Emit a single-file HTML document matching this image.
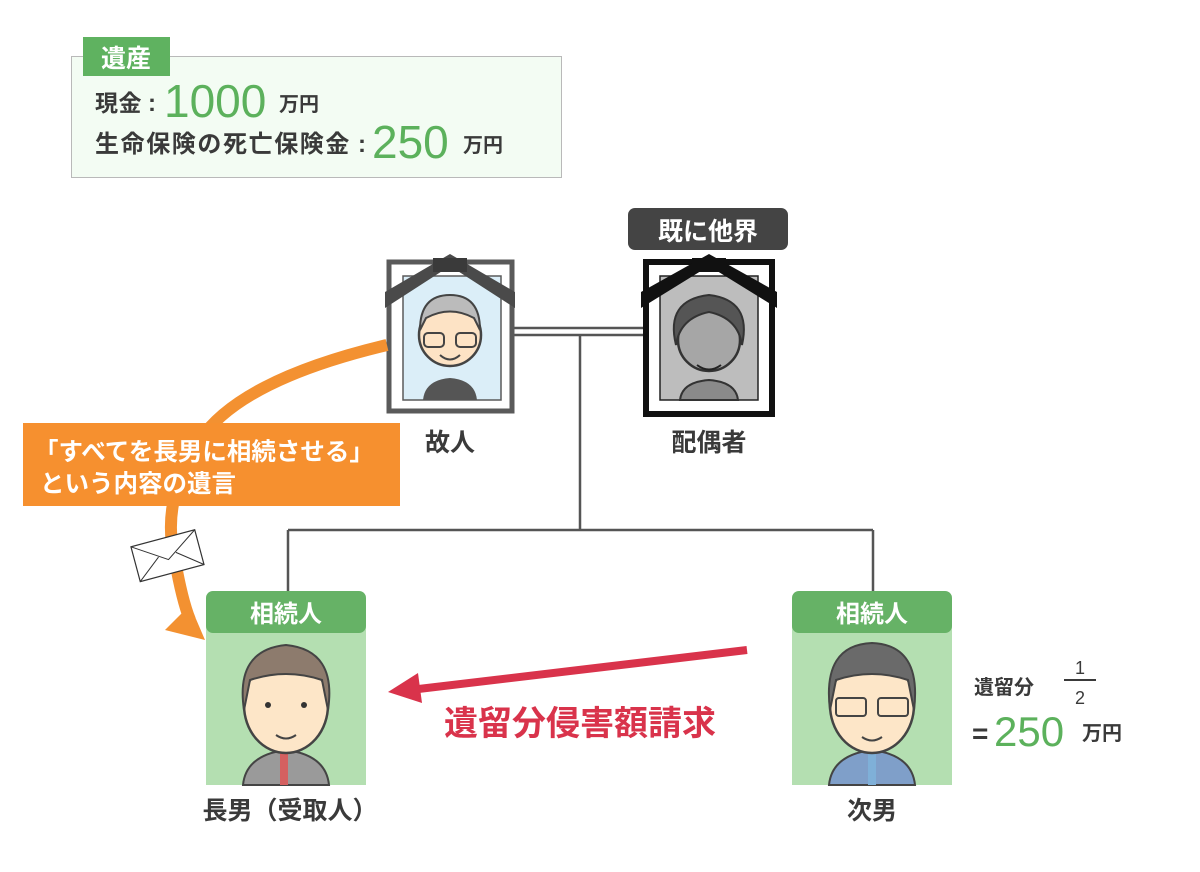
<!DOCTYPE html>
<html><head><meta charset="utf-8">
<style>
html,body{margin:0;padding:0;background:#fff;}
svg{display:block;}
text{font-family:"Liberation Sans","Noto Sans CJK JP",sans-serif;font-weight:bold;}
</style></head>
<body>
<svg width="1200" height="872" viewBox="0 0 1200 872" xmlns="http://www.w3.org/2000/svg">
<!-- estate box -->
<rect x="71.5" y="56.5" width="490" height="121" fill="#f3fcf3" stroke="#b9b9b9"/>
<rect x="83" y="37" width="87" height="39" fill="#5fb260"/>
<text x="126" y="67" font-size="25" fill="#fff" text-anchor="middle">遺産</text>
<text x="95" y="111" font-size="23" fill="#3a3a3a" letter-spacing="0.5">現金</text>
<text x="148" y="111" font-size="24" fill="#3a3a3a">:</text>
<text x="164" y="117" font-size="46" fill="#5cb15c" style="font-weight:normal">1000</text>
<text x="279" y="111" font-size="20" fill="#3a3a3a">万円</text>
<text x="95" y="152" font-size="24" fill="#3a3a3a" letter-spacing="1.6">生命保険の死亡保険金</text>
<text x="358" y="152" font-size="24" fill="#3a3a3a">:</text>
<text x="372" y="158" font-size="46" fill="#5cb15c" style="font-weight:normal">250</text>
<text x="463" y="152" font-size="20" fill="#3a3a3a">万円</text>

<!-- family lines -->
<g stroke="#555" stroke-width="2.5" fill="none">
<line x1="514" y1="328" x2="643" y2="328"/>
<line x1="514" y1="335" x2="643" y2="335"/>
<line x1="580" y1="335" x2="580" y2="530"/>
<line x1="288" y1="530" x2="873" y2="530"/>
<line x1="288" y1="530" x2="288" y2="592"/>
<line x1="873" y1="530" x2="873" y2="592"/>
</g>

<!-- deceased frame -->
<rect x="389" y="262" width="123" height="149" fill="#fff" stroke="#5a5a5a" stroke-width="5"/>
<rect x="403" y="276" width="98" height="124" fill="#dbeef8" stroke="#5a5a5a" stroke-width="1.5"/>
<circle cx="450" cy="335" r="31" fill="#fde3c5" stroke="#444" stroke-width="2.5"/>
<path d="M420 330 Q420 295 450 295 Q480 295 480 330 L474 318 Q450 305 426 318Z" fill="#bbb" stroke="#444" stroke-width="2"/>
<rect x="424" y="333" width="20" height="14" rx="4" fill="none" stroke="#444" stroke-width="2"/>
<rect x="456" y="333" width="20" height="14" rx="4" fill="none" stroke="#444" stroke-width="2"/>
<path d="M440 355 Q450 364 460 355" fill="none" stroke="#444" stroke-width="2"/>
<path d="M423 400 Q425 380 450 378 Q475 380 477 400Z" fill="#555"/>
<path d="M385 308 L450 266 L515 308 L515 292 L450 254 L385 292Z" fill="#4a4a4a"/>
<rect x="433" y="258" width="34" height="14" fill="#3a3a3a"/>

<!-- spouse label & frame -->
<rect x="628" y="208" width="160" height="42" rx="7" fill="#444"/>
<text x="708" y="240" font-size="25" fill="#fff" text-anchor="middle">既に他界</text>
<rect x="646" y="262" width="126" height="152" fill="#fff" stroke="#111" stroke-width="6"/>
<rect x="660" y="276" width="98" height="124" fill="#bdbdbd" stroke="#222" stroke-width="1.5"/>
<path d="M680 400 Q682 382 709 380 Q736 382 738 400Z" fill="#8a8a8a" stroke="#333" stroke-width="2"/>
<circle cx="709" cy="340" r="31" fill="#a6a6a6" stroke="#333" stroke-width="2.5"/>
<path d="M676 345 Q665 300 709 295 Q752 300 742 345 Q738 318 709 312 Q680 318 676 345Z" fill="#555" stroke="#333" stroke-width="2"/>
<path d="M697 365 Q709 374 721 365" fill="none" stroke="#222" stroke-width="2"/>
<path d="M641 308 L709 266 L777 308 L777 292 L709 254 L641 292Z" fill="#111"/>
<rect x="692" y="258" width="34" height="14" fill="#111"/>

<text x="450" y="451" font-size="25" fill="#3a3a3a" text-anchor="middle">故人</text>
<text x="709" y="451" font-size="25" fill="#3a3a3a" text-anchor="middle">配偶者</text>

<!-- orange arrow -->
<path d="M387 345 Q240 380 200 440 Q160 500 175 560 Q182 600 190 620" fill="none" stroke="#f39131" stroke-width="12"/>
<polygon points="165,630 205,640 190,605" fill="#f39131"/>
<rect x="23" y="423" width="377" height="83" fill="#f6902f"/>
<text x="34" y="460" font-size="24.5" fill="#fff">「すべてを長男に相続させる」</text>
<text x="40" y="492" font-size="24.5" fill="#fff">という内容の遺言</text>
<!-- envelope -->
<g transform="rotate(-15 166 554)">
<rect x="134" y="538" width="66" height="36" fill="#fff" stroke="#333" stroke-width="1.2"/>
<path d="M134 538 L167 560 L200 538 M134 574 L158 555 M200 574 L176 555" fill="none" stroke="#333" stroke-width="1"/>
</g>

<!-- cards -->
<g>
<rect x="206" y="620" width="160" height="165" fill="#b4dfb1"/>
<rect x="206" y="591" width="160" height="42" rx="7" fill="#66b266"/>
<text x="286" y="622" font-size="24" fill="#fff" text-anchor="middle">相続人</text>
<path d="M243 785 Q246 755 286 750 Q326 755 329 785Z" fill="#9a9a9a" stroke="#444" stroke-width="2"/>
<rect x="280" y="752" width="8" height="33" fill="#d46060"/>
<ellipse cx="286" cy="705" rx="42" ry="48" fill="#fde6c8" stroke="#444" stroke-width="2.5"/>
<path d="M244 710 Q235 650 286 645 Q337 650 328 710 L322 680 Q286 668 250 680Z" fill="#8d7b6d" stroke="#444" stroke-width="2"/>
<circle cx="268" cy="705" r="3" fill="#333"/><circle cx="304" cy="705" r="3" fill="#333"/>
<path d="M276 735 Q286 742 296 735" fill="none" stroke="#444" stroke-width="2"/>
</g>
<g>
<rect x="792" y="620" width="160" height="165" fill="#b4dfb1"/>
<rect x="792" y="591" width="160" height="42" rx="7" fill="#66b266"/>
<text x="872" y="622" font-size="24" fill="#fff" text-anchor="middle">相続人</text>
<path d="M829 785 Q832 755 872 750 Q912 755 915 785Z" fill="#7f9fc9" stroke="#444" stroke-width="2"/>
<rect x="868" y="752" width="8" height="33" fill="#7fb0d8"/>
<ellipse cx="872" cy="705" rx="42" ry="48" fill="#fde6c8" stroke="#444" stroke-width="2.5"/>
<path d="M830 710 Q822 645 872 643 Q922 645 914 710 L908 680 Q872 668 836 680Z" fill="#6a6a6a" stroke="#444" stroke-width="2"/>
<rect x="836" y="698" width="30" height="18" rx="3" fill="none" stroke="#444" stroke-width="2"/>
<rect x="878" y="698" width="30" height="18" rx="3" fill="none" stroke="#444" stroke-width="2"/>
<path d="M862 737 Q872 744 882 737" fill="none" stroke="#444" stroke-width="2"/>
</g>
<text x="290" y="819" font-size="25" fill="#3a3a3a" text-anchor="middle">長男（受取人）</text>
<text x="872" y="819" font-size="25" fill="#3a3a3a" text-anchor="middle">次男</text>

<!-- red arrow -->
<line x1="747" y1="650" x2="410" y2="690" stroke="#d9334b" stroke-width="8"/>
<polygon points="388,692 418,673 422,703" fill="#d9334b"/>
<text x="580" y="735" font-size="34" fill="#d9334b" text-anchor="middle">遺留分侵害額請求</text>

<!-- right note -->
<text x="974" y="694" font-size="20" fill="#3a3a3a">遺留分</text>
<text x="1080" y="674" font-size="18" fill="#3a3a3a" text-anchor="middle" style="font-weight:normal">1</text>
<line x1="1064" y1="680" x2="1096" y2="680" stroke="#3a3a3a" stroke-width="2"/>
<text x="1080" y="704" font-size="18" fill="#3a3a3a" text-anchor="middle" style="font-weight:normal">2</text>
<text x="972" y="743" font-size="28" fill="#3a3a3a">=</text>
<text x="994" y="746" font-size="42" fill="#5cb15c" style="font-weight:normal">250</text>
<text x="1082" y="740" font-size="20" fill="#3a3a3a">万円</text>
</svg>
</body></html>
